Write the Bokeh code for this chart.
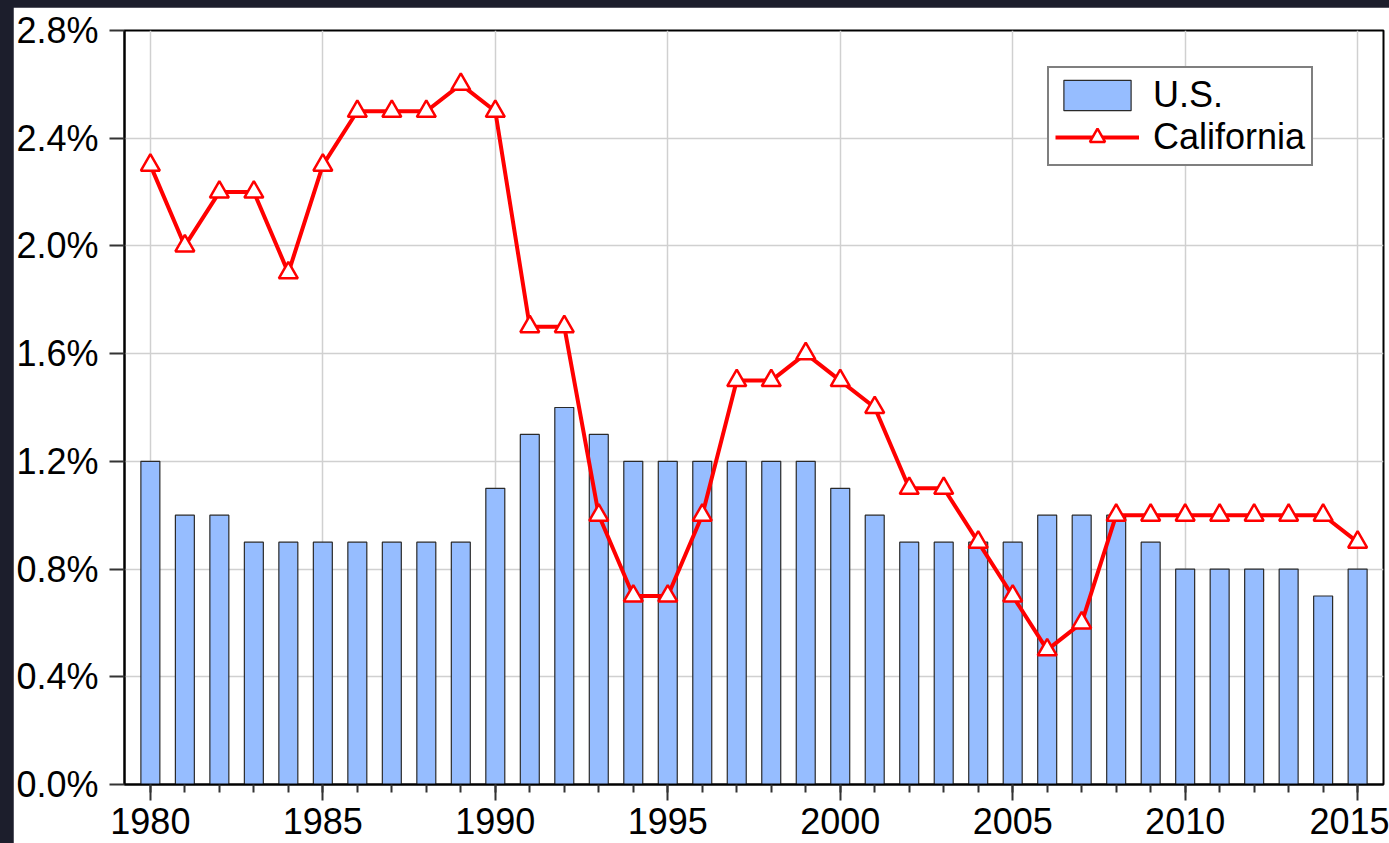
from bokeh.plotting import figure
from bokeh.layouts import column
from bokeh.models import FixedTicker, Range1d, Legend, LegendItem, CustomJSTickFormatter
from bokeh.embed import file_html
from bokeh.resources import INLINE

years = list(range(1980, 2016))
us = [1.2, 1.0, 1.0, 0.9, 0.9, 0.9, 0.9, 0.9, 0.9, 0.9,
      1.1, 1.3, 1.4, 1.3, 1.2, 1.2, 1.2, 1.2, 1.2, 1.2,
      1.1, 1.0, 0.9, 0.9, 0.9, 0.9, 1.0, 1.0, 1.0, 0.9,
      0.8, 0.8, 0.8, 0.8, 0.7, 0.8]
california = [2.3, 2.0, 2.2, 2.2, 1.9, 2.3, 2.5, 2.5, 2.5, 2.6,
              2.5, 1.7, 1.7, 1.0, 0.7, 0.7, 1.0, 1.5, 1.5, 1.6,
              1.5, 1.4, 1.1, 1.1, 0.9, 0.7, 0.5, 0.6, 1.0, 1.0,
              1.0, 1.0, 1.0, 1.0, 1.0, 0.9]
x_ticks = [1980, 1985, 1990, 1995, 2000, 2005, 2010, 2015]
y_ticks = [0.0, 0.4, 0.8, 1.2, 1.6, 2.0, 2.4, 2.8]

FONT = "Liberation Sans"
FS = "36px"

p = figure(width=1376, height=836, output_backend="svg", toolbar_location=None,
           x_range=Range1d(1979.25, 2015.75), y_range=Range1d(0, 2.8),
           min_border_left=100, min_border_top=23, min_border_right=6, min_border_bottom=59)
p.background_fill_color = "white"
p.border_fill_color = "white"
p.outline_line_color = "black"
p.outline_line_width = 2

bars = p.vbar(x=years, top=us, width=0.55, bottom=0,
              fill_color="#96bdff", line_color="#2a2a2a", line_width=1.2)
line = p.line(years, california, line_color="#ff0000", line_width=4)
pts = p.scatter(years, california, marker="triangle", size=19,
                fill_color="white", line_color="#ff0000", line_width=2.5)

# axes
p.xaxis.ticker = FixedTicker(ticks=x_ticks, minor_ticks=years)
p.yaxis.ticker = FixedTicker(ticks=y_ticks, minor_ticks=[])
p.yaxis.formatter = CustomJSTickFormatter(code="return tick.toFixed(1) + '%';")
for ax in (p.xaxis[0], p.yaxis[0]):
    ax.axis_line_color = "black"
    ax.axis_line_width = 2
    ax.major_label_text_font = FONT
    ax.major_label_text_font_size = FS
    ax.major_label_text_color = "black"
    ax.major_tick_line_color = "#333333"
    ax.major_tick_line_width = 2
    ax.minor_tick_line_color = "#333333"
    ax.minor_tick_line_width = 2
    ax.major_tick_in = 0
    ax.minor_tick_in = 0
p.xaxis.major_tick_out = 16
p.xaxis.minor_tick_out = 8
p.xaxis.major_label_standoff = 7
p.yaxis.major_tick_out = 15
p.yaxis.major_label_standoff = 11

p.xgrid.ticker = FixedTicker(ticks=x_ticks)
p.ygrid.ticker = FixedTicker(ticks=y_ticks)
for g in (p.xgrid[0], p.ygrid[0]):
    g.grid_line_color = "#d0d0d0"
    g.grid_line_width = 1.5

legend = Legend(items=[LegendItem(label="U.S.", renderers=[bars]),
                       LegendItem(label="California", renderers=[line, pts])],
                location=(923, 618))
legend.border_line_color = "black"
legend.border_line_width = 2
legend.background_fill_color = "white"
legend.background_fill_alpha = 1
legend.label_text_font = FONT
legend.label_text_font_size = FS
legend.label_text_color = "black"
legend.glyph_width = 84
legend.glyph_height = 38
legend.label_height = 36
legend.label_standoff = 14
legend.padding = 6
legend.spacing = 0
legend.margin = 0
p.add_layout(legend, "center")

page = column(p, width=1389, height=843,
              styles={"background-color": "#1c1e2c", "padding-left": "13px",
                      "padding-top": "7px", "box-sizing": "border-box"})

open("out.html", "w").write(file_html(page, INLINE))
